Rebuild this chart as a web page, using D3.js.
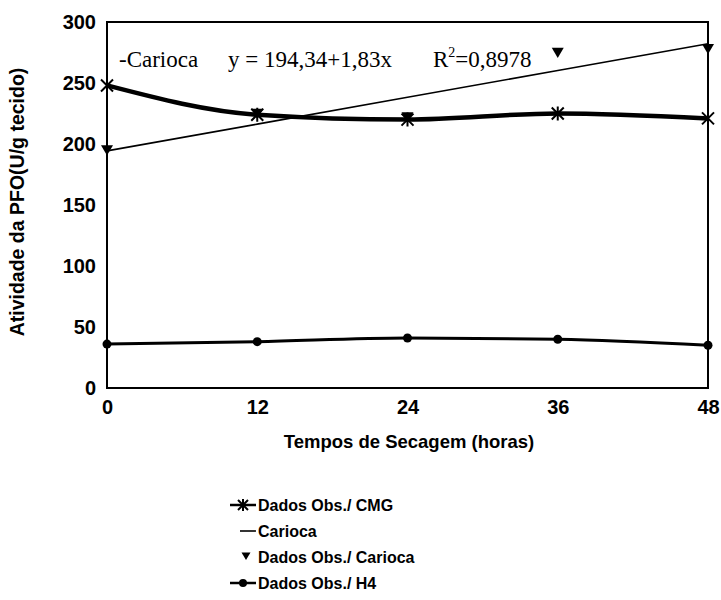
<!DOCTYPE html>
<html><head><meta charset="utf-8">
<script src="https://cdn.jsdelivr.net/npm/d3@7/dist/d3.min.js"></script>
<style>body{margin:0;background:#fff}svg{display:block}</style>
</head><body><svg id="c" width="721" height="600"></svg>
<script>
const hours = [0, 12, 24, 36, 48];
const cmg = [248, 224, 220, 225, 221];
const h4 = [36, 38, 41, 40, 35];
const cariocaObs = [195, 225, 222, 275, 278];
const fitA = 194.34, fitB = 1.83;
const yTicks = [0, 50, 100, 150, 200, 250, 300];
const legendLabels = ["Dados Obs./ CMG", "Carioca", "Dados Obs./ Carioca", "Dados Obs./ H4"];

const svg = d3.select("#c");
const L = 107, R = 708, T = 22, B = 388;
const x = d3.scaleLinear().domain([0, 48]).range([L, R]);
const y = d3.scaleLinear().domain([0, 300]).range([B, T]);
const sans = "'Liberation Sans', Arial, sans-serif";
const serif = "'Liberation Serif', 'Times New Roman', serif";

// frame
svg.append("rect").attr("x", L).attr("y", T).attr("width", R - L).attr("height", B - T)
  .attr("fill", "none").attr("stroke", "#000").attr("stroke-width", 2);

// axes
const yAx = svg.append("g").attr("transform", `translate(${L},0)`)
  .call(d3.axisLeft(y).tickValues(yTicks).tickSize(0).tickPadding(11));
const xAx = svg.append("g").attr("transform", `translate(0,${B})`)
  .call(d3.axisBottom(x).tickValues(hours).tickSize(0).tickPadding(12));
[yAx, xAx].forEach(g => {
  g.select(".domain").remove();
  g.selectAll("text").attr("font-family", sans).attr("font-weight", "bold")
    .attr("font-size", 20).attr("fill", "#000");
});

// titles
svg.append("text").attr("transform", "translate(24,202) rotate(-90)")
  .attr("text-anchor", "middle").attr("font-family", sans).attr("font-weight", "bold")
  .attr("font-size", 19.5).text("Atividade da PFO(U/g tecido)");
svg.append("text").attr("x", 409).attr("y", 448)
  .attr("text-anchor", "middle").attr("font-family", sans).attr("font-weight", "bold")
  .attr("font-size", 18.5).text("Tempos de Secagem (horas)");

// carioca fit line
const fit = hours.map(h => fitA + fitB * h);
svg.append("path").datum(hours.map((h, i) => [h, fit[i]]))
  .attr("d", d3.line().x(d => x(d[0])).y(d => y(d[1])))
  .attr("fill", "none").attr("stroke", "#000").attr("stroke-width", 1.6);

// CMG line
svg.append("path").datum(hours.map((h, i) => [h, cmg[i]]))
  .attr("d", d3.line().x(d => x(d[0])).y(d => y(d[1])).curve(d3.curveMonotoneX))
  .attr("fill", "none").attr("stroke", "#000").attr("stroke-width", 4.5);

// H4 line
svg.append("path").datum(hours.map((h, i) => [h, h4[i]]))
  .attr("d", d3.line().x(d => x(d[0])).y(d => y(d[1])).curve(d3.curveMonotoneX))
  .attr("fill", "none").attr("stroke", "#000").attr("stroke-width", 3);

function star(g, cx, cy, s) {
  g.append("path").attr("d",
    `M${cx - s},${cy - s}L${cx + s},${cy + s}M${cx - s},${cy + s}L${cx + s},${cy - s}M${cx},${cy - s - 1}L${cx},${cy + s + 1}`)
    .attr("stroke", "#000").attr("stroke-width", 2).attr("fill", "none");
}
function tri(g, cx, cy, s) {
  g.append("path").attr("d", `M${cx - s},${cy - s * 0.8}L${cx + s},${cy - s * 0.8}L${cx},${cy + s * 0.9}Z`)
    .attr("fill", "#000");
}
function dot(g, cx, cy, r) {
  g.append("circle").attr("cx", cx).attr("cy", cy).attr("r", r).attr("fill", "#000");
}

const mk = svg.append("g");
hours.forEach((h, i) => tri(mk, x(h), y(cariocaObs[i]), 6));
hours.forEach((h, i) => star(mk, x(h), y(cmg[i]), 6));
hours.forEach((h, i) => dot(mk, x(h), y(h4[i]), 4.5));

// equation text
const eqG = svg.append("g").attr("font-family", serif).attr("font-size", 23).attr("fill", "#000");
eqG.append("text").attr("x", 119).attr("y", 67).text("-Carioca");
eqG.append("text").attr("x", 228).attr("y", 67).text("y = 194,34+1,83x");
const r2 = eqG.append("text").attr("x", 433).attr("y", 67);
r2.append("tspan").text("R");
r2.append("tspan").attr("font-size", 14).attr("dy", -10).text("2");
r2.append("tspan").attr("dy", 10).text("=0,8978");

// legend
const lg = svg.append("g");
const ly = [505, 531, 557, 583];
legendLabels.forEach((t, i) => {
  lg.append("text").attr("x", 258).attr("y", ly[i]).attr("dy", "0.35em")
    .attr("font-family", sans).attr("font-weight", "bold").attr("font-size", 16).text(t);
});
lg.append("line").attr("x1", 230).attr("x2", 256).attr("y1", ly[0]).attr("y2", ly[0]).attr("stroke", "#000").attr("stroke-width", 2.5);
star(lg, 243, ly[0], 5);
lg.append("line").attr("x1", 240).attr("x2", 256).attr("y1", ly[1]).attr("y2", ly[1]).attr("stroke", "#000").attr("stroke-width", 1.6);
tri(lg, 246, ly[2] - 1, 4.5);
lg.append("line").attr("x1", 230).attr("x2", 256).attr("y1", ly[3]).attr("y2", ly[3]).attr("stroke", "#000").attr("stroke-width", 2.5);
dot(lg, 243, ly[3], 4);
</script></body></html>
